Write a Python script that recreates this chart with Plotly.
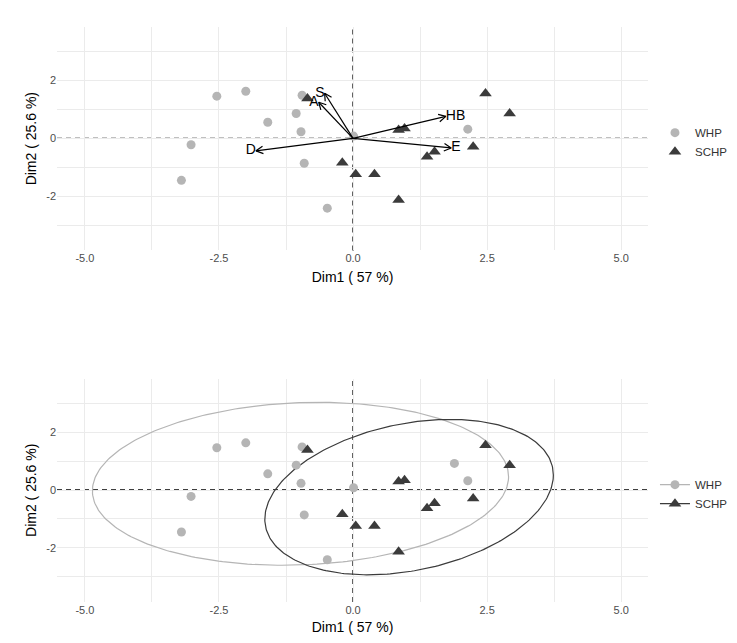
import numpy as np
import plotly.graph_objects as go
from plotly.subplots import make_subplots

# ---------------- data ----------------
groups = ["WHP", "SCHP"]
whp_x = [-2.54, -2.00, -0.95, -1.06, -1.59, -0.97, -3.02, -3.20, -0.91, -0.48, 0.01, 2.14, 1.89]
whp_y = [1.46, 1.63, 1.49, 0.86, 0.56, 0.23, -0.22, -1.45, -0.86, -2.41, 0.08, 0.32, 0.92]
# the last WHP individual does not appear in the biplot panel of the reference
whp_in_biplot = [True] * 12 + [False]
schp_x = [-0.85, -0.20, 0.05, 0.40, 0.85, 0.85, 0.96, 1.38, 1.52, 2.24, 2.47, 2.92]
schp_y = [1.38, -0.84, -1.24, -1.24, -2.13, 0.29, 0.34, -0.63, -0.46, -0.29, 1.55, 0.86]

var_names = ["S", "A", "D", "HB", "E"]
var_x = [-0.53, -0.64, -1.81, 1.73, 1.83]
var_y = [1.56, 1.25, -0.43, 0.76, -0.33]

# ellipse parameters: centre, half-extent in x and y, correlation
ell_cx = [-0.98, 1.045]
ell_cy = [0.215, -0.245]
ell_hx = [3.88, 2.69]
ell_hy = [2.815, 2.685]
ell_r = [0.087, 0.284]

x_label = "Dim1 ( 57 %)"
y_label = "Dim2 ( 25.6 %)"
x_ticks = [-5.0, -2.5, 0.0, 2.5, 5.0]
x_ticklabels = ["-5.0", "-2.5", "0.0", "2.5", "5.0"]
y_ticks = [-2, 0, 2]
y_ticklabels = ["-2", "0", "2"]

# ---------------- style ----------------
# page body has an 8px margin, so the figure is sized to fit the window exactly
W, H = 721, 627
ML, MR, MT, MB = 49, 81, 19, 33
XR = [-5.52, 5.50]
YR = [-3.87, 3.85]
GREY = "#b5b5b5"
DARK = "#3b3b3b"
FONT = "Liberation Sans, Arial, sans-serif"
top_dom = [0.6115, 1.0]
bot_dom = [0.0, 0.3885]

fig = make_subplots(rows=2, cols=1, vertical_spacing=0.22)

colors = {"WHP": GREY, "SCHP": DARK}
symbols = {"WHP": "circle", "SCHP": "triangle-up"}
sizes = {"WHP": 9, "SCHP": 11}
pts = {"WHP": (whp_x, whp_y), "SCHP": (schp_x, schp_y)}
pts_top = {
    "WHP": ([x for x, k in zip(whp_x, whp_in_biplot) if k],
            [y for y, k in zip(whp_y, whp_in_biplot) if k]),
    "SCHP": (schp_x, schp_y),
}

# top panel: points
for g in groups:
    fig.add_trace(go.Scatter(x=pts_top[g][0], y=pts_top[g][1], mode="markers", name=g,
                             marker=dict(color=colors[g], symbol=symbols[g], size=sizes[g],
                                         line=dict(width=0)),
                             legend="legend", showlegend=True), row=1, col=1)

# arrows (variables)
plot_w = W - ML - MR
plot_h = (H - MT - MB) * (top_dom[1] - top_dom[0])
sx = plot_w / (XR[1] - XR[0])
sy = plot_h / (YR[1] - YR[0])
head_len = 8.0
head_ang = np.deg2rad(28)
for name, vx, vy in zip(var_names, var_x, var_y):
    fig.add_trace(go.Scatter(x=[0, vx], y=[0, vy], mode="lines",
                             line=dict(color="black", width=1.2), showlegend=False,
                             hoverinfo="skip"), row=1, col=1)
    # open V head computed in pixel space
    dx, dy = vx * sx, vy * sy
    ang = np.arctan2(dy, dx)
    hx, hy = [], []
    for s in (1, -1):
        a = ang + np.pi + s * head_ang
        hx.append(vx + head_len * np.cos(a) / sx)
        hy.append(vy + head_len * np.sin(a) / sy)
    fig.add_trace(go.Scatter(x=[hx[0], vx, hx[1]], y=[hy[0], vy, hy[1]], mode="lines",
                             line=dict(color="black", width=1.2), showlegend=False,
                             hoverinfo="skip"), row=1, col=1)
    fig.add_trace(go.Scatter(x=[vx], y=[vy], mode="text", text=[name],
                             textposition="middle left" if vx < 0 else "middle right",
                             textfont=dict(color="black", size=14, family=FONT),
                             showlegend=False, hoverinfo="skip"), row=1, col=1)

# bottom panel: ellipses + points
t = np.linspace(0, 2 * np.pi, 300)
for i, g in enumerate(groups):
    ex = ell_cx[i] + ell_hx[i] * np.cos(t)
    ey = ell_cy[i] + ell_hy[i] * (ell_r[i] * np.cos(t) + np.sqrt(1 - ell_r[i] ** 2) * np.sin(t))
    fig.add_trace(go.Scatter(x=ex, y=ey, mode="lines", line=dict(color=colors[g], width=1.2),
                             showlegend=False, hoverinfo="skip"), row=2, col=1)
for g in groups:
    fig.add_trace(go.Scatter(x=pts[g][0], y=pts[g][1], mode="markers", name=g,
                             marker=dict(color=colors[g], symbol=symbols[g], size=sizes[g],
                                         line=dict(width=0)),
                             showlegend=False), row=2, col=1)
for g in groups:
    fig.add_trace(go.Scatter(x=[None], y=[None], mode="lines+markers", name=g,
                             marker=dict(color=colors[g], symbol=symbols[g], size=sizes[g],
                                         line=dict(width=0)),
                             line=dict(color=colors[g], width=1.2),
                             legend="legend2", showlegend=True), row=2, col=1)

# dashed zero lines
for r in (1, 2):
    xa = "x" if r == 1 else "x2"
    ya = "y" if r == 1 else "y2"
    fig.add_shape(type="line", xref=xa + " domain", yref=ya, x0=0, x1=1, y0=0, y1=0,
                  line=dict(color="black", width=1.3, dash="5px,4px"), layer="below")
    fig.add_shape(type="line", xref=xa, yref=ya + " domain", x0=0, x1=0, y0=0, y1=1,
                  line=dict(color="black", width=1.3, dash="5px,4px"), layer="below")

axis_common = dict(showline=False, zeroline=False, ticks="", showgrid=True,
                   gridcolor="#ebebeb", gridwidth=1.1,
                   tickfont=dict(size=11, color="#4d4d4d", family=FONT),
                   title_font=dict(size=14, color="black", family=FONT))
for r, dom in ((1, top_dom), (2, bot_dom)):
    fig.update_xaxes(range=XR, tickvals=x_ticks, ticktext=x_ticklabels,
                     minor=dict(dtick=1.25, tick0=0, showgrid=True, gridcolor="#ebebeb", gridwidth=0.6),
                     title_text=x_label, title_standoff=8, **axis_common, row=r, col=1)
    fig.update_yaxes(range=YR, tickvals=y_ticks, ticktext=y_ticklabels, domain=dom,
                     minor=dict(dtick=1, tick0=0, showgrid=True, gridcolor="#ebebeb", gridwidth=0.6),
                     title_text=y_label, title_standoff=6, **axis_common, row=r, col=1)

legend_common = dict(xref="paper", x=1.0118, xanchor="left", yanchor="middle",
                     font=dict(size=11.5, color="#333333", family=FONT),
                     bgcolor="rgba(0,0,0,0)", itemwidth=30, tracegroupgap=0)
fig.update_layout(
    width=W, height=H,
    margin=dict(l=ML, r=MR, t=MT, b=MB, autoexpand=False),
    plot_bgcolor="white", paper_bgcolor="white",
    font=dict(family=FONT),
    legend=dict(y=0.7997, **legend_common),
    legend2=dict(y=0.1875, **legend_common),
)

fig.write_html("out.html")
